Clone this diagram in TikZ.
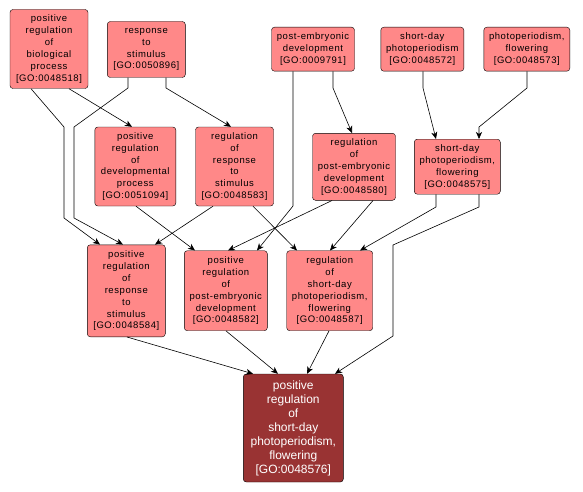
\documentclass[tikz,border=0pt]{standalone}
\usepackage{fontspec}
\setmainfont{Liberation Sans}
\newfontfamily\gofont[LetterSpace=6]{Liberation Sans}
\usetikzlibrary{arrows.meta}
\definecolor{goFill}{HTML}{FF8888}
\definecolor{goHit}{HTML}{993333}

\begin{document}
\begin{tikzpicture}[x=1pt,y=-1pt,>={Stealth[length=7pt,width=6pt,inset=2pt]},
   go/.style={draw,rounded corners=3pt,fill=goFill,align=center,inner sep=0pt,
     font=\gofont\fontsize{9.5}{11.9}\selectfont},
   hit/.style={go,fill=goHit,text=white,font=\fontsize{12}{14}\selectfont},
   ed/.style={->,line width=0.6pt}]
  \useasboundingbox (0,0) rectangle (583,492);
  % top row
  \node[go,minimum width=78,minimum height=79] (prb) at (49,49) {positive\\regulation\\of\\biological\\process\\{}[GO:0048518]};
  \node[go,minimum width=78,minimum height=56] (rs) at (146.3,49.5) {response\\to\\stimulus\\{}[GO:0050896]};
  \node[go,minimum width=83,minimum height=44] (ped) at (313,49.2) {post-embryonic\\development\\{}[GO:0009791]};
  \node[go,minimum width=83,minimum height=44] (sdp) at (422.3,49.2) {short-day\\photoperiodism\\{}[GO:0048572]};
  \node[go,minimum width=86,minimum height=44] (pf) at (526.8,49.2) {photoperiodism,\\flowering\\{}[GO:0048573]};
  % second row
  \node[go,minimum width=81,minimum height=79] (prdp) at (135.3,166.5) {positive\\regulation\\of\\developmental\\process\\{}[GO:0051094]};
  \node[go,minimum width=78,minimum height=79] (rrs) at (234.5,166.5) {regulation\\of\\response\\to\\stimulus\\{}[GO:0048583]};
  \node[go,minimum width=83,minimum height=67] (rped) at (354,166.8) {regulation\\of\\post-embryonic\\development\\{}[GO:0048580]};
  \node[go,minimum width=86,minimum height=55] (sdpf) at (457.3,166.7) {short-day\\photoperiodism,\\flowering\\{}[GO:0048575]};
  % third row
  \node[go,minimum width=78,minimum height=92] (prrs) at (126.3,290.8) {positive\\regulation\\of\\response\\to\\stimulus\\{}[GO:0048584]};
  \node[go,minimum width=83,minimum height=80] (prped) at (225.8,290.7) {positive\\regulation\\of\\post-embryonic\\development\\{}[GO:0048582]};
  \node[go,minimum width=86,minimum height=80] (rsdpf) at (329.7,290.7) {regulation\\of\\short-day\\photoperiodism,\\flowering\\{}[GO:0048587]};
  % term
  \node[hit,minimum width=100,minimum height=108] (prsdpf) at (293.3,428) {positive\\regulation\\of\\short-day\\photoperiodism,\\flowering\\{}[GO:0048576]};
  % edges
  \draw[ed] (31,0 |- prb.south) -- (64,127) -- (64,218) -- (100,0 |- prrs.north);
  \draw[ed] (69,0 |- prb.south) -- (132,0 |- prdp.north);
  \draw[ed] (128,0 |- rs.south) -- (128,88) -- (74,127) -- (74,218) -- (123,0 |- prrs.north);
  \draw[ed] (166,0 |- rs.south) -- (166,88) -- (231,0 |- rrs.north);
  \draw[ed] (333,0 |- ped.south) -- (333,88) -- (352,0 |- rped.north);
  \draw[ed] (293,0 |- ped.south) -- (293,206) -- (257,0 |- prped.north);
  \draw[ed] (423,0 |- sdp.south) -- (423,88) -- (436,0 |- sdpf.north);
  \draw[ed] (527,0 |- pf.south) -- (527,88) -- (479,127) -- (479,0 |- sdpf.north);
  \draw[ed] (136,0 |- prdp.south) -- (195,0 |- prped.north);
  \draw[ed] (213,0 |- rrs.south) -- (155,0 |- prrs.north);
  \draw[ed] (253,0 |- rrs.south) -- (297,0 |- rsdpf.north);
  \draw[ed] (332,0 |- rped.south) -- (228,0 |- prped.north);
  \draw[ed] (373,0 |- rped.south) -- (330,0 |- rsdpf.north);
  \draw[ed] (436,0 |- sdpf.south) -- (436,207) -- (360,0 |- rsdpf.north);
  \draw[ed] (479,0 |- sdpf.south) -- (479,207) -- (393,245) -- (393,336) -- (335,0 |- prsdpf.north);
  \draw[ed] (127,0 |- prrs.south) -- (253,0 |- prsdpf.north);
  \draw[ed] (226,0 |- prped.south) -- (278,0 |- prsdpf.north);
  \draw[ed] (329,0 |- rsdpf.south) -- (307,0 |- prsdpf.north);
\end{tikzpicture}
\end{document}
